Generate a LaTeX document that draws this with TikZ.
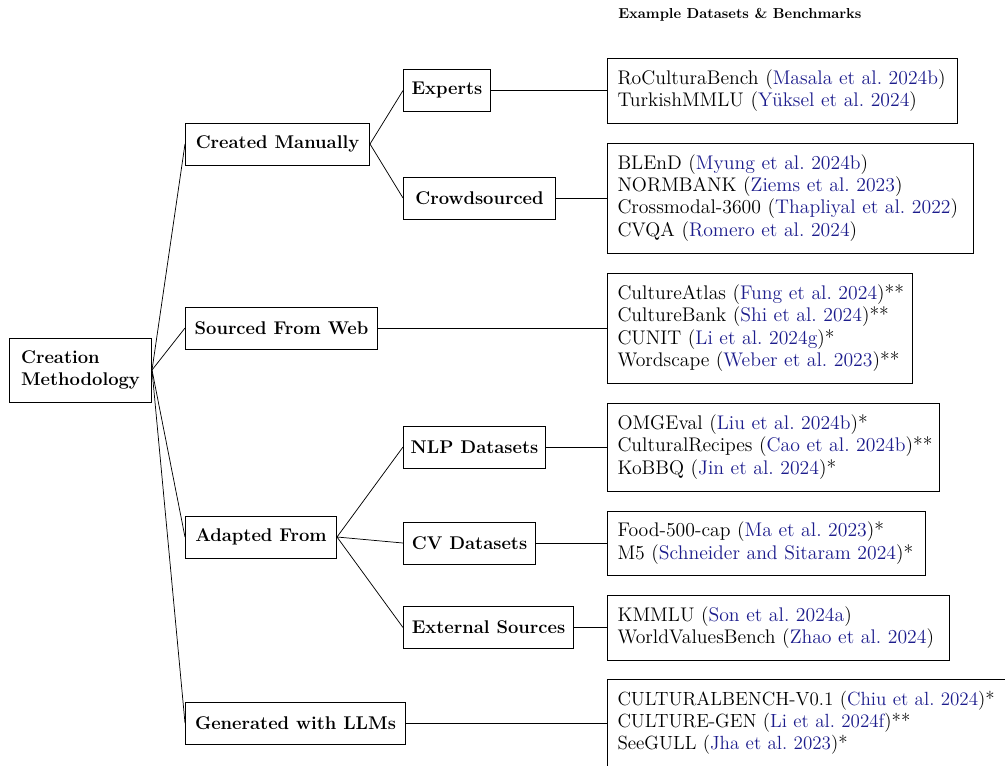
\documentclass[tikz,border=0pt]{standalone}
\usepackage{fontspec}
\usepackage{xcolor}
\frenchspacing
\definecolor{citeblue}{RGB}{28,28,140}
\newcommand\dsl[3]{\mbox{#1 (\textcolor{citeblue}{#2})#3}}
\tikzset{
  lab/.style={draw, line width=0.75pt, anchor=west, inner sep=0pt, minimum height=31.5pt,
    font=\fontsize{13.8}{16.5}\selectfont\bfseries},
  dsbox/.style={draw, line width=0.75pt, anchor=west, inner ysep=0pt, inner xsep=7.5pt,
    align=left, font=\fontsize{14.8}{16.6}\selectfont},
  conn/.style={line width=0.55pt}
}
\begin{document}
\begin{tikzpicture}[x=0.75pt,y=-0.75pt]
\useasboundingbox (0,0) rectangle (1005,765);
\node[anchor=west, inner sep=0pt, font=\fontsize{10.8}{13}\selectfont\bfseries] (hdr) at (618,15) {Example Datasets \& Benchmarks};

\node[lab, minimum width=106.5pt, minimum height=48pt, align=left] (cm) at (9,370) {Creation\\Methodology};

\node[lab, minimum width=138pt] (cman) at (185,144) {Created Manually};
\node[lab, minimum width=144pt] (web) at (185,328) {Sourced From Web};
\node[lab, minimum width=113.25pt] (adapt) at (185,537) {Adapted From};
\node[lab, minimum width=165pt] (gen) at (185,723) {Generated with LLMs};

\node[lab, minimum width=65.25pt] (exp) at (403,90.5) {Experts};
\node[lab, minimum width=114pt] (crowd) at (403,198) {Crowdsourced};
\node[lab, minimum width=106.5pt] (nlp) at (403,447) {NLP Datasets};
\node[lab, minimum width=99pt] (cv) at (403,543) {CV Datasets};
\node[lab, minimum width=127.5pt] (ext) at (403,627.5) {External Sources};

\node[dsbox, text width=247.5pt, minimum height=48.75pt] (d1) at (607,90.5)
  {\dsl{RoCulturaBench}{Masala et al. 2024b}{}\\\dsl{TurkishMMLU}{Yüksel et al. 2024}{}};
\node[dsbox, text width=259.5pt, minimum height=82.5pt] (d2) at (607,198)
  {\dsl{BLEnD}{Myung et al. 2024b}{}\\\dsl{NORMBANK}{Ziems et al. 2023}{}\\\dsl{Crossmodal-3600}{Thapliyal et al. 2022}{}\\\dsl{CVQA}{Romero et al. 2024}{}};
\node[dsbox, text width=213.75pt, minimum height=82.5pt] (d3) at (607,328)
  {\dsl{CultureAtlas}{Fung et al. 2024}{**}\\\dsl{CultureBank}{Shi et al. 2024}{**}\\\dsl{CUNIT}{Li et al. 2024g}{*}\\\dsl{Wordscape}{Weber et al. 2023}{**}};
\node[dsbox, text width=234pt, minimum height=66pt] (d4) at (607,447)
  {\dsl{OMGEval}{Liu et al. 2024b}{*}\\\dsl{CulturalRecipes}{Cao et al. 2024b}{**}\\\dsl{KoBBQ}{Jin et al. 2024}{*}};
\node[dsbox, text width=223.5pt, minimum height=48pt] (d5) at (607,543)
  {\dsl{Food-500-cap}{Ma et al. 2023}{*}\\\dsl{M5}{Schneider and Sitaram 2024}{*}};
\node[dsbox, text width=241.5pt, minimum height=48.75pt] (d6) at (607,627.5)
  {\dsl{KMMLU}{Son et al. 2024a}{}\\\dsl{WorldValuesBench}{Zhao et al. 2024}{}};
\node[dsbox, text width=289.5pt, minimum height=66pt, font=\fontsize{14.3}{16.6}\selectfont] (d7) at (607,723)
  {\dsl{CULTURALBENCH-V0.1}{Chiu et al. 2024}{*}\\\dsl{CULTURE-GEN}{Li et al. 2024f}{**}\\\dsl{SeeGULL}{Jha et al. 2023}{*}};

\draw[conn] (cm.east) -- (cman.west);
\draw[conn] (cm.east) -- (web.west);
\draw[conn] (cm.east) -- (adapt.west);
\draw[conn] (cm.east) -- (gen.west);
\draw[conn] (cman.east) -- (exp.west);
\draw[conn] (cman.east) -- (crowd.west);
\draw[conn] (adapt.east) -- (nlp.west);
\draw[conn] (adapt.east) -- (cv.west);
\draw[conn] (adapt.east) -- (ext.west);
\draw[conn] (exp.east) -- (d1.west);
\draw[conn] (crowd.east) -- (d2.west);
\draw[conn] (web.east) -- (d3.west);
\draw[conn] (nlp.east) -- (d4.west);
\draw[conn] (cv.east) -- (d5.west);
\draw[conn] (ext.east) -- (d6.west);
\draw[conn] (gen.east) -- (d7.west);
\end{tikzpicture}
\end{document}
